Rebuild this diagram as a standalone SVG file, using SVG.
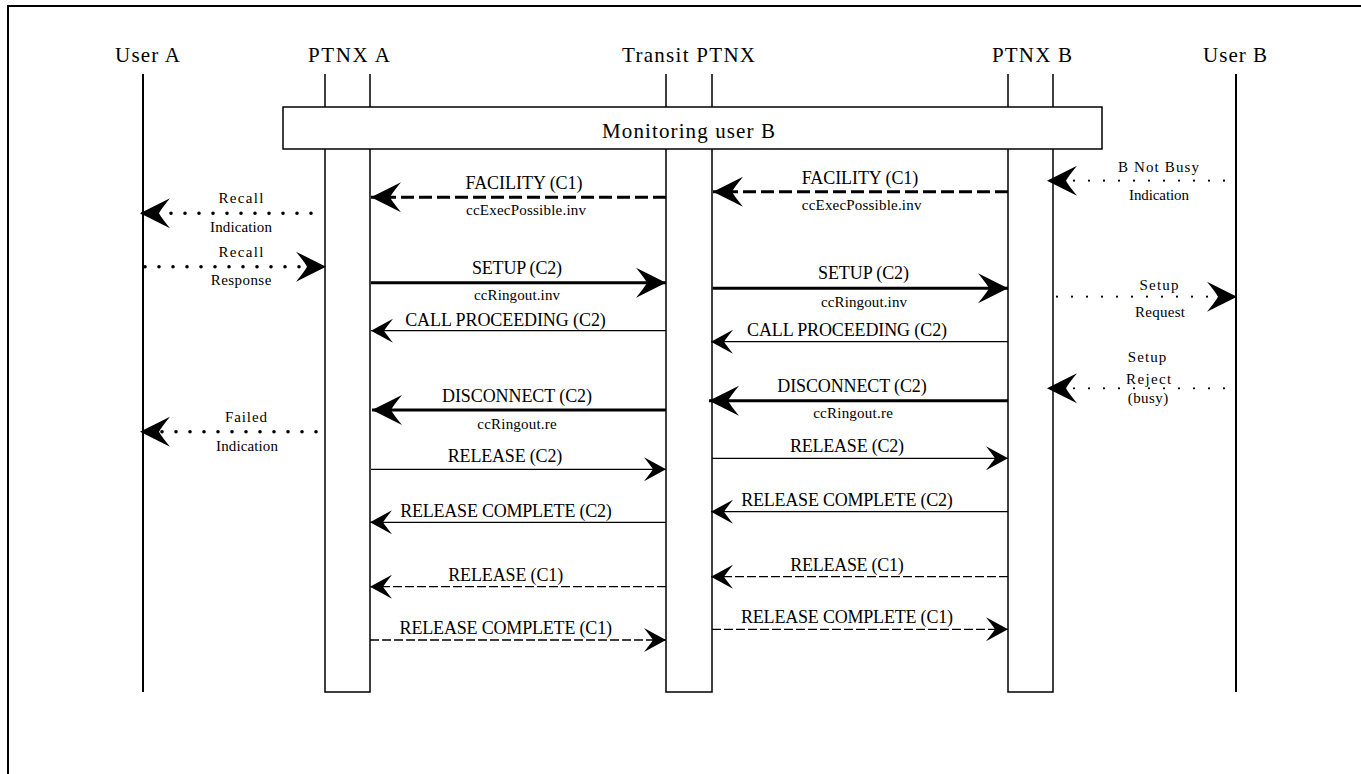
<svg xmlns="http://www.w3.org/2000/svg" width="1361" height="774" viewBox="0 0 1361 774">
<style>
text{font-family:"Liberation Serif","Times New Roman",serif;fill:#000;text-anchor:middle}
.h{font-size:21px}
.m{font-size:18px}
.s{font-size:15px}
.ll{fill:none;stroke:#000;stroke-width:2}
.bx{fill:none;stroke:#000;stroke-width:1.5}
.tk{fill:none;stroke:#000;stroke-width:3}
.tn{fill:none;stroke:#000;stroke-width:1.3}
.dsh{stroke-dasharray:13 5}
.dsn{stroke-dasharray:9 3}
.dotb{fill:none;stroke:#000;stroke-width:3.6;stroke-linecap:round;stroke-dasharray:0 14}
.dots{fill:none;stroke:#000;stroke-width:2.2;stroke-linecap:round;stroke-dasharray:0 15}
.big{marker-end:url(#ab)}
.sml{marker-end:url(#as)}
</style>
<defs>
<marker id="ab" markerUnits="userSpaceOnUse" viewBox="-32 -17 34 34" markerWidth="34" markerHeight="34" refX="0" refY="0" orient="auto" overflow="visible">
<path d="M0,0 L-30,-15 Q-21,-4 -19,0 Q-21,4 -30,15 Z" fill="#000"/>
</marker>
<marker id="as" markerUnits="userSpaceOnUse" viewBox="-24 -13 26 26" markerWidth="26" markerHeight="26" refX="0" refY="0" orient="auto" overflow="visible">
<path d="M0,0 L-22,-12 Q-15,-3 -13,0 Q-15,3 -22,12 Z" fill="#000"/>
</marker>
</defs>
<rect width="1361" height="774" fill="#fff"/>
<path d="M8,774 V6 H1361" fill="none" stroke="#000" stroke-width="2"/>

<g id="userA">
<text class="h" x="147.5" y="61.7" textLength="65" lengthAdjust="spacing">User A</text>
<line class="ll" x1="143" y1="74" x2="143" y2="692"/>
</g>
<g id="ptnxA">
<text class="h" x="349" y="61.7" textLength="82" lengthAdjust="spacing">PTNX A</text>
<path class="bx" d="M325,74 V692 H370 V74"/>
</g>
<g id="transit">
<text class="h" x="688.5" y="61.7" textLength="133" lengthAdjust="spacing">Transit PTNX</text>
<path class="bx" d="M666,74 V692 H712 V74"/>
</g>
<g id="ptnxB">
<text class="h" x="1032" y="61.7" textLength="80" lengthAdjust="spacing">PTNX B</text>
<path class="bx" d="M1008,74 V692 H1053 V74"/>
</g>
<g id="userB">
<text class="h" x="1235" y="61.7" textLength="64" lengthAdjust="spacing">User B</text>
<line class="ll" x1="1236" y1="74" x2="1236" y2="692"/>
</g>
<g id="monitoring">
<rect x="283" y="107" width="819" height="42" fill="#fff" stroke="#000" stroke-width="1.5"/>
<text class="h" x="688.5" y="138.3" textLength="173" lengthAdjust="spacing">Monitoring user B</text>
</g>

<g id="connectors">
<!-- FACILITY -->
<path class="tk dsh big" d="M666,197.3 H371"/>
<text class="m" x="524" y="189" textLength="117" lengthAdjust="spacing">FACILITY (C1)</text>
<text class="s" x="526" y="215" textLength="120" lengthAdjust="spacing">ccExecPossible.inv</text>
<path class="tk dsh big" d="M1008,191.7 H713"/>
<text class="m" x="860" y="184" textLength="116.5" lengthAdjust="spacing">FACILITY (C1)</text>
<text class="s" x="861.6" y="210" textLength="119.6" lengthAdjust="spacing">ccExecPossible.inv</text>
<!-- B Not Busy -->
<path class="dots big" d="M1224,180.7 H1047"/>
<text class="s" x="1158.5" y="172" textLength="81" lengthAdjust="spacing">B Not Busy</text>
<text class="s" x="1159" y="200" textLength="60" lengthAdjust="spacing">Indication</text>
<!-- Recall Indication -->
<path class="dotb big" d="M311,213.3 H140"/>
<text class="s" x="241" y="203" textLength="45" lengthAdjust="spacing">Recall</text>
<text class="s" x="241" y="231.7" textLength="62" lengthAdjust="spacing">Indication</text>
<!-- Recall Response -->
<path class="dotb big" d="M145,266.7 H326"/>
<text class="s" x="241" y="256.7" textLength="45" lengthAdjust="spacing">Recall</text>
<text class="s" x="241" y="285" textLength="60.6" lengthAdjust="spacing">Response</text>
<!-- SETUP -->
<path class="tk big" d="M371,282.7 H666"/>
<text class="m" x="517" y="274.3" textLength="90" lengthAdjust="spacing">SETUP (C2)</text>
<text class="s" x="517" y="300" textLength="86" lengthAdjust="spacing">ccRingout.inv</text>
<path class="tk big" d="M712.6,288.3 H1008"/>
<text class="m" x="863.5" y="279" textLength="91" lengthAdjust="spacing">SETUP (C2)</text>
<text class="s" x="864" y="306.7" textLength="86" lengthAdjust="spacing">ccRingout.inv</text>
<!-- Setup Request -->
<path class="dots big" d="M1057,296.7 H1237"/>
<text class="s" x="1159" y="290" textLength="39" lengthAdjust="spacing">Setup</text>
<text class="s" x="1160" y="316.7" textLength="50" lengthAdjust="spacing">Request</text>
<!-- CALL PROCEEDING -->
<path class="tn sml" d="M666,330.7 H371"/>
<text class="m" x="505.5" y="325.7" textLength="200.7" lengthAdjust="spacing">CALL PROCEEDING (C2)</text>
<path class="tn sml" d="M1008,341.7 H711"/>
<text class="m" x="847" y="336" textLength="200" lengthAdjust="spacing">CALL PROCEEDING (C2)</text>
<!-- Setup Reject -->
<path class="dots big" d="M1224,388.3 H1047"/>
<text class="s" x="1147" y="362" textLength="38.6" lengthAdjust="spacing">Setup</text>
<text class="s" x="1148.6" y="384" textLength="45" lengthAdjust="spacing">Reject</text>
<text class="s" x="1148" y="403.3" textLength="40.5" lengthAdjust="spacing">(busy)</text>
<!-- DISCONNECT -->
<path class="tk big" d="M666,410 H372"/>
<text class="m" x="517" y="401.7" textLength="150" lengthAdjust="spacing">DISCONNECT (C2)</text>
<text class="s" x="517" y="429.3" textLength="79.3" lengthAdjust="spacing">ccRingout.re</text>
<path class="tk big" d="M1008,400.7 H709"/>
<text class="m" x="852" y="391.7" textLength="149.4" lengthAdjust="spacing">DISCONNECT (C2)</text>
<text class="s" x="853" y="418.3" textLength="79.6" lengthAdjust="spacing">ccRingout.re</text>
<!-- Failed Indication -->
<path class="dotb big" d="M316,431.7 H140"/>
<text class="s" x="246" y="422.3" textLength="42" lengthAdjust="spacing">Failed</text>
<text class="s" x="247" y="450.7" textLength="62" lengthAdjust="spacing">Indication</text>
<!-- RELEASE C2 -->
<path class="tn sml" d="M371,469.3 H666"/>
<text class="m" x="505" y="461.7" textLength="114.5" lengthAdjust="spacing">RELEASE (C2)</text>
<path class="tn sml" d="M712,458.3 H1008"/>
<text class="m" x="847" y="451.7" textLength="114" lengthAdjust="spacing">RELEASE (C2)</text>
<!-- RELEASE COMPLETE C2 -->
<path class="tn sml" d="M666,522.3 H370"/>
<text class="m" x="506" y="516.7" textLength="211.5" lengthAdjust="spacing">RELEASE COMPLETE (C2)</text>
<path class="tn sml" d="M1008,511.7 H711"/>
<text class="m" x="847" y="506" textLength="211.5" lengthAdjust="spacing">RELEASE COMPLETE (C2)</text>
<!-- RELEASE C1 -->
<path class="tn dsn sml" d="M666,586.7 H370"/>
<text class="m" x="505.7" y="580.7" textLength="115" lengthAdjust="spacing">RELEASE (C1)</text>
<path class="tn dsn sml" d="M1008,576.7 H711"/>
<text class="m" x="847" y="570.7" textLength="113.4" lengthAdjust="spacing">RELEASE (C1)</text>
<!-- RELEASE COMPLETE C1 -->
<path class="tn dsn sml" d="M370,640 H666"/>
<text class="m" x="505.8" y="634.3" textLength="212.4" lengthAdjust="spacing">RELEASE COMPLETE (C1)</text>
<path class="tn dsn sml" d="M712,629.3 H1008"/>
<text class="m" x="847" y="622.7" textLength="212" lengthAdjust="spacing">RELEASE COMPLETE (C1)</text>
</g>
</svg>
